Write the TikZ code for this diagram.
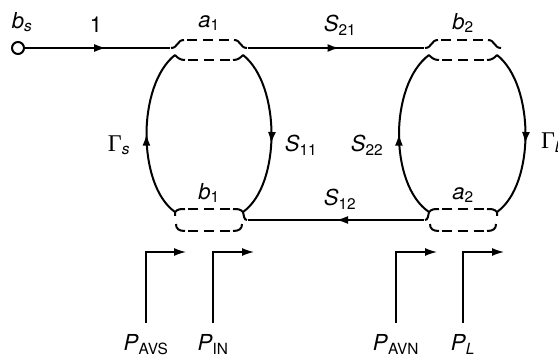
\documentclass[tikz,border=0pt]{standalone}
\usepackage{fontspec}
\setmainfont{TeX Gyre Heros}
\newfontfamily\gfont{Liberation Serif}
\usetikzlibrary{arrows.meta,decorations.markings,calc}
\newcommand\sbt[1]{\textsubscript{#1}}
\newcommand\gam{{\gfont\fontsize{24}{24}\selectfont Γ}}
\newcommand\topport[1]{%
  \begin{scope}[shift={(#1.center)}]
    \draw (-38,0) .. controls (-31,0) and (-32,-8) .. (-25,-8);
    \draw[dsh] (-25,-8) -- (25,-8);
    \draw (25,-8) .. controls (32,-8) and (31,0) .. (38,0);
    \draw (-34,7) .. controls (-31,10) and (-29,12) .. (-24,12);
    \draw[dsh] (-24,12) -- (24,12);
    \draw (24,12) .. controls (29,12) and (31,10) .. (34,7);
  \end{scope}}
\newcommand\botport[2]{%
  \begin{scope}[shift={(#1.center)},xscale=#2]
    \draw (-34,-4) -- (-34,-8) .. controls (-31,-11) and (-29,-11) .. (-24,-11);
    \draw[dsh] (-24,-11) -- (24,-11);
    \draw (24,-11) .. controls (29,-11) and (31,-11) .. (34,-8) .. controls (35,-4) and (35,0) .. (38,0);
    \draw (-33,4) .. controls (-33,9) and (-30,11) .. (-24,11);
    \draw[dsh] (-24,11) -- (24,11);
    \draw (24,11) .. controls (30,11) and (33,9) .. (33,4);
  \end{scope}}
\begin{document}
\begin{tikzpicture}[x=1pt,y=-1pt, line width=2pt,
  tip/.style={-{Latex[length=12pt,width=8pt]}},
  arrowat/.style={postaction={decorate},decoration={markings,mark=at position #1 with {\arrow{Latex[length=12pt,width=8pt]}}}},
  lbl/.style={font=\fontsize{22}{24}\selectfont, inner sep=0pt},
  port/.style={rectangle, minimum width=76pt, minimum height=24pt, inner sep=0pt},
  dsh/.style={dash pattern=on 10pt off 6pt, dash phase=13pt},
]
\useasboundingbox (0,0) rectangle (558,358);

% ports
\node[port] (a1) at (209,48) {};
\node[port] (b2) at (463,48) {};
\node[port] (b1) at (209,220) {};
\node[port] (a2) at (463,220) {};
\topport{a1}
\topport{b2}
\botport{b1}{1}
\botport{a2}{-1}

% source terminal
\node[circle, draw, minimum size=12pt, inner sep=0pt] (bs) at (18,48) {};

% loop end points
\coordinate (a1ll) at ($(a1.center)+(-34,7)$);
\coordinate (a1lr) at ($(a1.center)+(34,7)$);
\coordinate (b1ul) at ($(b1.center)+(-34,-8)$);
\coordinate (b1ur) at ($(b1.center)+(34,-8)$);
\coordinate (b2ll) at ($(b2.center)+(-34,7)$);
\coordinate (b2lr) at ($(b2.center)+(34,7)$);
\coordinate (a2ul) at ($(a2.center)+(-34,-8)$);
\coordinate (a2ur) at ($(a2.center)+(34,-8)$);

% straight branches
\draw[arrowat=0.56] (bs) -- (a1.west);
\draw[arrowat=0.52] (a1.east) -- (b2.west);
\draw[arrowat=0.50] (a2.west) -- (b1.east);

% loops
\draw[arrowat=0.5] (b1ul) .. controls (137,185) and (137,85) .. (a1ll);
\draw[arrowat=0.56] (a1lr) .. controls (281,85) and (281,185) .. (b1ur);
\draw[arrowat=0.5] (a2ul) .. controls (389,185) and (389,85) .. (b2ll);
\draw[arrowat=0.56] (b2lr) .. controls (535,85) and (535,185) .. (a2ur);

% labels
\node[lbl] (Lbs) at (22,22) {\textit{b}\sbt{\textit{s}}};
\node[lbl] (L1) at (96,25) {1};
\node[lbl] (La1) at (209,23) {\textit{a}\sbt{1}};
\node[lbl] (LS21) at (340,25) {\textit{S}\sbt{21}};
\node[lbl] (Lb2) at (463,23) {\textit{b}\sbt{2}};
\node[lbl] (LGs) at (119,145) {\gam\sbt{\textit{s}}};
\node[lbl] (LS11) at (301,145) {\textit{S}\sbt{11}};
\node[lbl] (LS22) at (367,145) {\textit{S}\sbt{22}};
\node[lbl, anchor=west] (LGL) at (540,143) {\gam\sbt{\textit{L}}};
\node[lbl] (Lb1) at (209,193) {\textit{b}\sbt{1}};
\node[lbl] (LS12) at (340,199) {\textit{S}\sbt{12}};
\node[lbl] (La2) at (463,195) {\textit{a}\sbt{2}};

% power reference arrows
\node[lbl, anchor=north] (PAVS) at (146,333) {\textit{P}\sbt{AVS}};
\node[lbl, anchor=north] (PIN) at (213,333) {\textit{P}\sbt{IN}};
\node[lbl, anchor=north] (PAVN) at (396,333) {\textit{P}\sbt{AVN}};
\node[lbl, anchor=north] (PL) at (463,333) {\textit{P}\sbt{\textit{L}}};
\coordinate (eAVS) at (186,252);
\coordinate (eIN) at (254,252);
\coordinate (eAVN) at (437,252);
\coordinate (eL) at (504,252);
\draw[tip, line width=1.4pt, shorten <=10pt] (PAVS.north) |- (eAVS);
\draw[tip, line width=1.4pt, shorten <=10pt] (PIN.north) |- (eIN);
\draw[tip, line width=1.4pt, shorten <=10pt] (PAVN.north) |- (eAVN);
\draw[tip, line width=1.4pt, shorten <=10pt] (PL.north) |- (eL);
\end{tikzpicture}
\end{document}
